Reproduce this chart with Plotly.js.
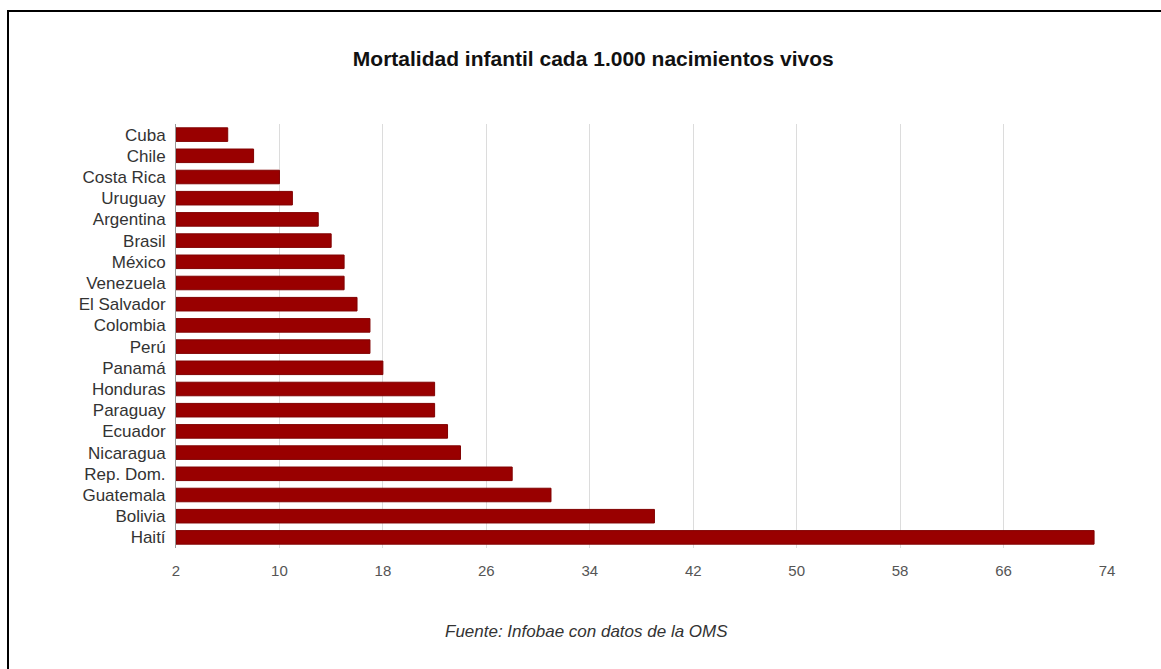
<!DOCTYPE html>
<html>
<head>
<meta charset="utf-8">
<script src="https://cdn.plot.ly/plotly-3.0.1.min.js"></script>
<style>
  html, body { margin: 0; padding: 0; background: #fff; }
  #frame { position: absolute; left: 0; top: 0; width: 1161px; height: 669px; }
  #border { position: absolute; left: 7px; top: 10px; width: 1154px; height: 659px;
            border-top: 2px solid #000; border-left: 2px solid #000; box-sizing: border-box; pointer-events: none; }
  #chart { position: absolute; left: 0; top: 0; width: 1161px; height: 669px; }
</style>
</head>
<body>
<div id="frame">
  <div id="chart"></div>
  <div id="border"></div>
</div>
<script>
const countries = ["Cuba", "Chile", "Costa Rica", "Uruguay", "Argentina", "Brasil", "México",
  "Venezuela", "El Salvador", "Colombia", "Perú", "Panamá", "Honduras", "Paraguay",
  "Ecuador", "Nicaragua", "Rep. Dom.", "Guatemala", "Bolivia", "Haití"];
const mortality = [6, 8, 10, 11, 13, 14, 15, 15, 16, 17, 17, 18, 22, 22, 23, 24, 28, 31, 39, 73];
const xTicks = [2, 10, 18, 26, 34, 42, 50, 58, 66, 74];
const axisStart = 2;
const titleText = "Mortalidad infantil cada 1.000 nacimientos vivos";
const sourceText = "Fuente: Infobae con datos de la OMS";

const trace = {
  type: "bar",
  orientation: "h",
  y: countries,
  x: mortality.map(v => v - axisStart),
  base: axisStart,
  marker: { color: "#990000", line: { color: "#800000", width: 1 } },
  hoverinfo: "y+x"
};

const layout = {
  width: 1161,
  height: 669,
  margin: { l: 176, r: 54, t: 124, b: 121 },
  paper_bgcolor: "#ffffff",
  plot_bgcolor: "#ffffff",
  showlegend: false,
  bargap: 0.36,
  font: { family: "Liberation Sans, Arial, sans-serif", color: "#444" },
  title: {
    text: titleText,
    font: { family: "Liberation Sans, Arial, sans-serif", size: 21, color: "#111", weight: "bold" },
    xref: "container", x: 0.511, xanchor: "center",
    yref: "container", y: 0.913, yanchor: "middle"
  },
  xaxis: {
    range: [2, 74],
    tickvals: xTicks,
    ticktext: xTicks.map(String),
    showgrid: true,
    gridcolor: "#dcdcdc",
    gridwidth: 1,
    zeroline: false,
    showline: false,
    ticks: "",
    ticklabelstandoff: 12,
    tickfont: { size: 15, color: "#555" },
    fixedrange: true
  },
  yaxis: {
    autorange: "reversed",
    type: "category",
    showline: true,
    linecolor: "#999",
    linewidth: 1,
    showgrid: false,
    ticks: "",
    ticklabelstandoff: 6,
    tickfont: { size: 17, color: "#333" },
    fixedrange: true
  },
  annotations: [{
    text: "<i>" + sourceText + "</i>",
    xref: "paper", yref: "paper",
    x: 0.5, y: -0.198,
    xanchor: "center", yanchor: "middle",
    showarrow: false,
    xshift: -55,
    font: { size: 17, color: "#333", family: "Liberation Sans, Arial, sans-serif" }
  }]
};

Plotly.newPlot("chart", [trace], layout, { displayModeBar: false, staticPlot: true });
</script>
</body>
</html>
